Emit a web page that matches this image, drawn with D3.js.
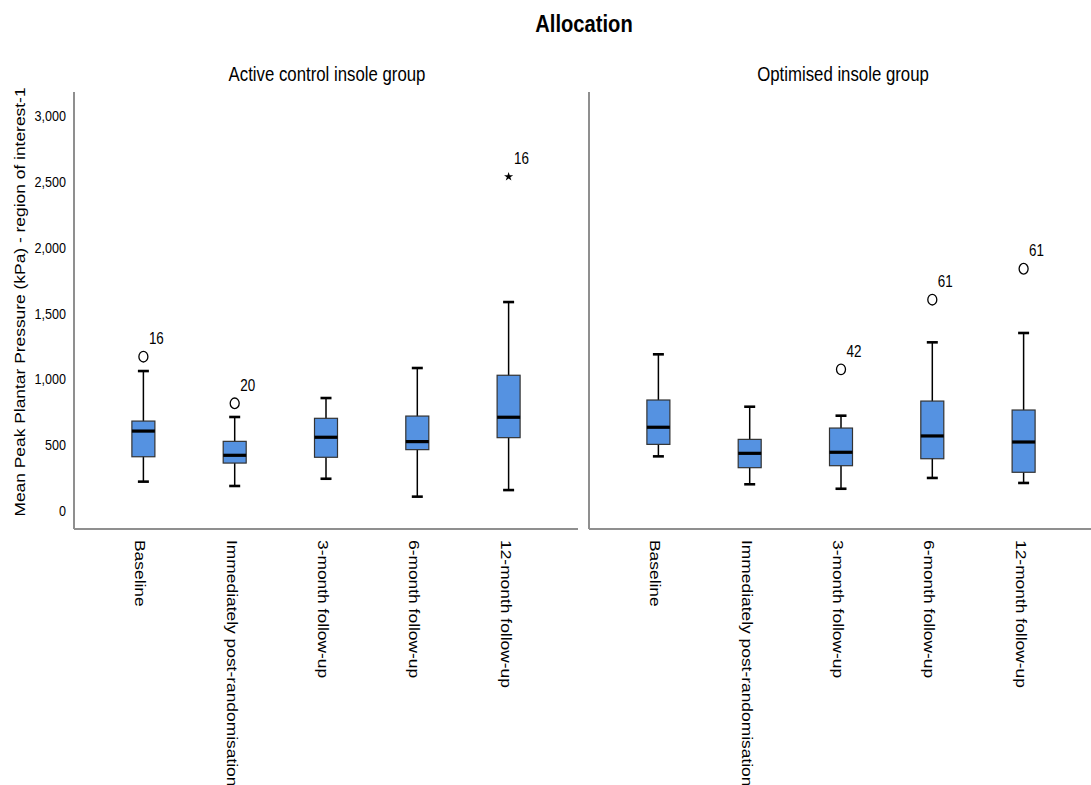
<!DOCTYPE html>
<html>
<head>
<meta charset="utf-8">
<script src="https://cdn.jsdelivr.net/npm/d3@7"></script>
<style>
  html, body { margin: 0; padding: 0; background: #fff; }
  svg text { font-family: "Liberation Sans", Arial, sans-serif; fill: #000; }
</style>
</head>
<body>
<svg id="chart" width="1091" height="785"></svg>
<script>
// Timepoints (x categories, shared by both panels)
const timepoints = [
  "Baseline",
  "Immediately post-randomisation",
  "3-month follow-up",
  "6-month follow-up",
  "12-month follow-up"
];

// Panels (allocation groups)
const groups = ["Active control insole group", "Optimised insole group"];

// Y axis ticks (kPa)
const yTicks = [0, 500, 1000, 1500, 2000, 2500, 3000];

// Five-number summaries per timepoint: [lower whisker, Q1, median, Q3, upper whisker]
const activeStats = [
  [223, 412, 607, 683, 1063],
  [190, 364, 423, 529, 714],
  [245, 408, 560, 704, 858],
  [109, 466, 527, 721, 1086],
  [159, 557, 712, 1031, 1587]
];
const optimisedStats = [
  [415, 506, 636, 843, 1190],
  [203, 329, 438, 544, 792],
  [169, 344, 446, 630, 724],
  [251, 397, 570, 835, 1281],
  [213, 294, 524, 767, 1352]
];

// Outliers: [timepoint index, value, case label, kind]
const activeOutliers = [
  [0, 1172, "16", "circle"],
  [1, 818, "20", "circle"],
  [4, 2539, "16", "star"]
];
const optimisedOutliers = [
  [2, 1076, "42", "circle"],
  [3, 1605, "61", "circle"],
  [4, 1840, "61", "circle"]
];

const panelStats = [activeStats, optimisedStats];
const panelOutliers = [activeOutliers, optimisedOutliers];

const svg = d3.select("#chart");

// Layout
const plotTop = 92, plotBottom = 529;
const panelX = [[74, 578], [589, 1093]];
const panelTitleX = [327, 843];

const y = d3.scaleLinear().domain([0, 3000]).range([511, 116]);

const boxFill = "#5592e1";
const axisGrey = "#8f8f8f";

// Text in this figure is drawn slightly condensed horizontally
const squeeze = 0.84;
const stretch = 1.16;

// Main title
svg.append("text")
  .attr("transform", `translate(584,32) scale(${squeeze},1)`)
  .attr("text-anchor", "middle")
  .style("font-size", "24px").style("font-weight", "bold")
  .text("Allocation");

// Y axis title
svg.append("text")
  .attr("transform", `translate(25,302) rotate(-90) scale(${stretch},1)`)
  .attr("text-anchor", "middle")
  .style("font-size", "15px")
  .text("Mean Peak Plantar Pressure (kPa) - region of interest-1");

// Y tick labels (left panel only)
svg.append("g").selectAll("text")
  .data(yTicks).join("text")
  .attr("transform", d => `translate(66,${y(d) + 5}) scale(${squeeze},1)`)
  .attr("text-anchor", "end")
  .style("font-size", "15px")
  .text(d => d3.format(",")(d));

groups.forEach((g, pi) => {
  const [x0, x1] = panelX[pi];
  const x = d3.scalePoint().domain(timepoints).range([x0, x1]).padding(0.76);
  const layer = svg.append("g");

  // Panel title
  layer.append("text")
    .attr("transform", `translate(${panelTitleX[pi]},81) scale(${squeeze},1)`)
    .attr("text-anchor", "middle")
    .style("font-size", "20px")
    .text(g);

  // Frame: left and bottom lines
  layer.append("line")
    .attr("x1", x0).attr("x2", x0).attr("y1", plotTop).attr("y2", plotBottom)
    .attr("stroke", axisGrey).attr("stroke-width", 2);
  layer.append("line")
    .attr("x1", x0).attr("x2", x1).attr("y1", plotBottom).attr("y2", plotBottom)
    .attr("stroke", axisGrey).attr("stroke-width", 2);

  const boxW = 23, capW = 11;
  const stats = panelStats[pi];

  const bx = layer.selectAll("g.box")
    .data(stats.map((s, i) => ({ t: timepoints[i], s })))
    .join("g").attr("class", "box");

  // Whiskers
  bx.append("line")
    .attr("x1", d => x(d.t)).attr("x2", d => x(d.t))
    .attr("y1", d => y(d.s[0])).attr("y2", d => y(d.s[4]))
    .attr("stroke", "#000").attr("stroke-width", 1.5);
  // Caps
  [0, 4].forEach(k => {
    bx.append("line")
      .attr("x1", d => x(d.t) - capW / 2).attr("x2", d => x(d.t) + capW / 2)
      .attr("y1", d => y(d.s[k])).attr("y2", d => y(d.s[k]))
      .attr("stroke", "#000").attr("stroke-width", 2.6);
  });
  // Boxes
  bx.append("rect")
    .attr("x", d => x(d.t) - boxW / 2).attr("width", boxW)
    .attr("y", d => y(d.s[3])).attr("height", d => y(d.s[1]) - y(d.s[3]))
    .attr("fill", boxFill).attr("stroke", "#333").attr("stroke-width", 1.2);
  // Medians
  bx.append("line")
    .attr("x1", d => x(d.t) - boxW / 2).attr("x2", d => x(d.t) + boxW / 2)
    .attr("y1", d => y(d.s[2])).attr("y2", d => y(d.s[2]))
    .attr("stroke", "#000").attr("stroke-width", 3.2);

  // Outliers
  panelOutliers[pi].forEach(([ti, v, lab, kind]) => {
    const cx = x(timepoints[ti]), cy = y(v);
    if (kind === "circle") {
      layer.append("ellipse")
        .attr("cx", cx).attr("cy", cy).attr("rx", 4.5).attr("ry", 5.3)
        .attr("fill", "none").attr("stroke", "#000").attr("stroke-width", 1.3);
    } else {
      layer.append("path")
        .attr("transform", `translate(${cx},${cy})`)
        .attr("d", d3.symbol(d3.symbolStar, 26)())
        .attr("fill", "#000");
    }
    layer.append("text")
      .attr("transform", `translate(${cx + 5.5},${cy - 12.5}) scale(${squeeze},1)`)
      .style("font-size", "16px")
      .text(lab);
  });

  // X category labels, rotated to read downward
  layer.selectAll("text.cat")
    .data(timepoints).join("text").attr("class", "cat")
    .attr("transform", d => `translate(${x(d) - 8},540) rotate(90) scale(${stretch},1)`)
    .attr("text-anchor", "start")
    .style("font-size", "15px")
    .text(d => d);
});
</script>
</body>
</html>
